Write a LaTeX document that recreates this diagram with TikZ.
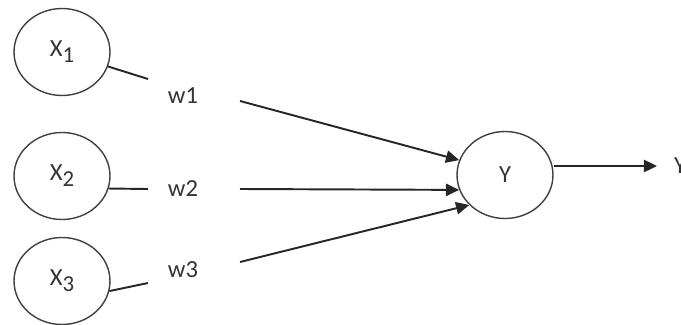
\documentclass[tikz,border=0pt]{standalone}
\usepackage{fontspec}
\setmainfont{Carlito}
\usetikzlibrary{arrows.meta,shapes.geometric}
\tikzset{neuron/.style={ellipse,draw=black!75,line width=0.8pt,minimum width=1.92cm,minimum height=1.74cm,inner sep=0pt,font=\fontsize{14}{16}\selectfont,text=black!80}}
\tikzset{weight/.style={inner sep=1pt,font=\fontsize{14}{16}\selectfont,text=black!80}}
\tikzset{wire/.style={line width=1.1pt,color=black!85}}
\tikzset{signal/.style={wire,-{Triangle[length=7.5pt,width=7pt]}}}
\newcommand{\Xin}[1]{X\raisebox{-0.5ex}{\fontsize{13}{15}\selectfont #1}}

\begin{document}
\begin{tikzpicture}[x=0.02cm,y=-0.02cm]
\useasboundingbox (0,0) rectangle (681,325);
% inputs
\node (x1) [neuron] at (62,52) {\Xin{1}};
\node (x2) [neuron] at (62,176) {\Xin{2}};
\node (x3) [neuron] at (62,281) {\Xin{3}};
\node (y) [neuron] at (505,175) {Y};
%
\node (w1) [weight] at (183,96) {w1};
\node (w2) [weight] at (183,189) {w2};
\node (w3) [weight] at (183,270) {w3};
\node (out) [weight,anchor=west] at (672,166) {Y};
%
\coordinate (e1) at (148,79);
\coordinate (e2) at (148,189);
\coordinate (e3) at (148,283);
\coordinate (s1) at (240,101);
\coordinate (s2) at (240,189);
\coordinate (s3) at (240,262);
\coordinate (t) at (657,166);
%
\path[wire] (x1) edge (e1);
\path[wire] (x2.-15) edge (e2);
\path[wire] (x3.-12) edge (e3);
\path[signal] (s1) edge (y.162);
\path[signal] (s2) edge (y.198);
\path[signal] (s3) edge (y.220);
\path[signal] (y.east |- t) edge (t);
\end{tikzpicture}
\end{document}
